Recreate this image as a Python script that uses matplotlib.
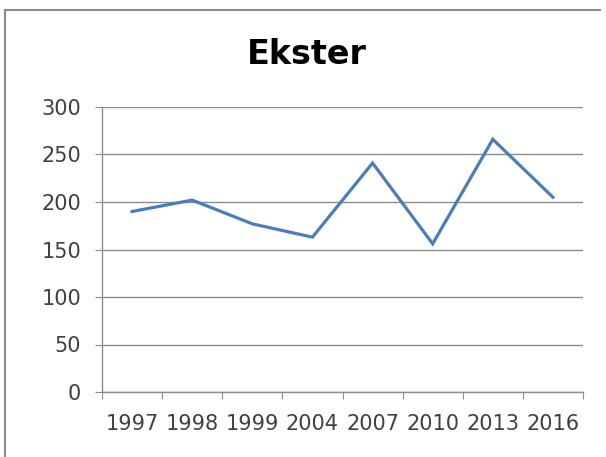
import numpy as np
import matplotlib
matplotlib.use('Agg')
import matplotlib.pyplot as plt
from matplotlib.lines import Line2D

years = ['1997', '1998', '1999', '2004', '2007', '2010', '2013', '2016']
counts = [190, 202, 177, 163, 241, 156, 266, 205]

fig = plt.figure(figsize=(6.06, 4.57), dpi=100)
ax = fig.add_axes([102/606, 1-392/457, (583-102)/606, (392-107)/457])

x = np.arange(len(years)) + 0.5
ax.plot(x, counts, color='#4a7ebb', lw=2.3, solid_joinstyle='miter')

ax.set_xlim(0, len(years))
ax.set_ylim(0, 300)
ax.set_yticks(np.arange(0, 301, 50))
ax.set_xticks(np.arange(len(years) + 1))
ax.set_xticklabels([])
ax.set_xticks(x, minor=True)
ax.set_xticklabels(years, minor=True)

ax.grid(axis='y', color='#8c8c8c', lw=1)
ax.set_axisbelow(True)
for s in ['top', 'right']:
    ax.spines[s].set_visible(False)
for s in ['left', 'bottom']:
    ax.spines[s].set_color('#8c8c8c')
    ax.spines[s].set_linewidth(1)

ax.tick_params(axis='both', which='major', direction='out', length=5,
               color='#8c8c8c', labelsize=15, labelcolor='#404040')
ax.tick_params(axis='y', pad=10)
ax.tick_params(axis='x', which='minor', length=0, pad=16,
               labelsize=15, labelcolor='#404040')

fig.text(307/606, 1-55/457, 'Ekster', ha='center', va='center',
         fontsize=24, fontweight='bold', color='#000000')

# chart area border (left and top edges visible)
fig.add_artist(Line2D([5/606, 5/606], [0, 1-10/457], transform=fig.transFigure,
                      color='#8a8a8a', lw=1.5))
fig.add_artist(Line2D([5/606, 600/606], [1-10/457, 1-10/457], transform=fig.transFigure,
                      color='#8a8a8a', lw=1.5))

fig.savefig('out.png', dpi=100)
